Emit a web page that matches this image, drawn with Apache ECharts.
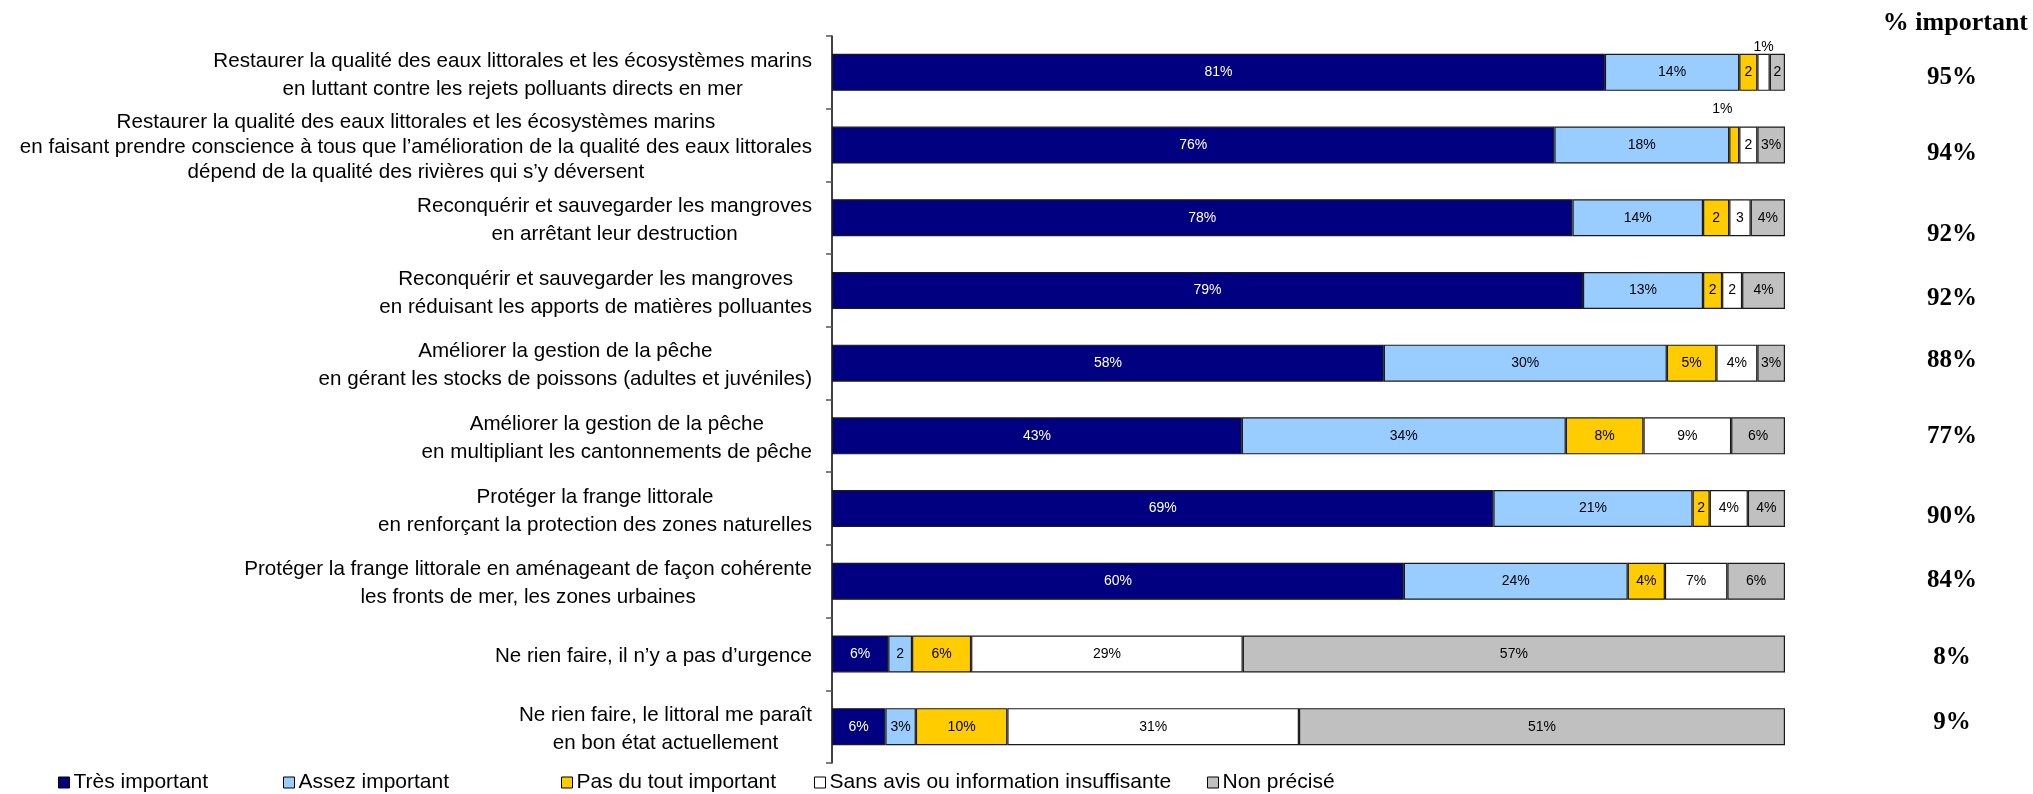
<!DOCTYPE html>
<html>
<head>
<meta charset="utf-8">
<script src="https://cdn.jsdelivr.net/npm/echarts@6/dist/echarts.min.js"></script>
<style>
html,body{margin:0;padding:0;background:#fff;}
#chart{width:2033px;height:794px;}
</style>
</head>
<body>
<div id="chart"></div>
<script>
const categories = [
  "Restaurer la qualité des eaux littorales et les écosystèmes marins\nen luttant contre les rejets polluants directs en mer",
  "Restaurer la qualité des eaux littorales et les écosystèmes marins\nen faisant prendre conscience à tous que l’amélioration de la qualité des eaux littorales\ndépend de la qualité des rivières qui s’y déversent",
  "Reconquérir et sauvegarder les mangroves\nen arrêtant leur destruction",
  "Reconquérir et sauvegarder les mangroves\nen réduisant les apports de matières polluantes",
  "Améliorer la gestion de la pêche\nen gérant les stocks de poissons (adultes et juvéniles)",
  "Améliorer la gestion de la pêche\nen multipliant les cantonnements de pêche",
  "Protéger la frange littorale\nen renforçant la protection des zones naturelles",
  "Protéger la frange littorale en aménageant de façon cohérente\nles fronts de mer, les zones urbaines",
  "Ne rien faire, il n’y a pas d’urgence",
  "Ne rien faire, le littoral me paraît\nen bon état actuellement"
];
const seriesNames = ["Très important", "Assez important", "Pas du tout important", "Sans avis ou information insuffisante", "Non précisé"];

const tresImportant     = [81.1, 75.8, 77.7, 78.8, 57.9, 43.0, 69.4, 60.0, 5.9, 5.6];
const assezImportant    = [14.1, 18.35, 13.7, 12.6, 29.7, 34.0, 20.9, 23.5, 2.5, 3.2];
const pasDuTout         = [1.9, 1.05, 2.75, 2.0, 5.2, 8.15, 1.8, 3.9, 6.2, 9.6];
const sansAvis          = [1.3, 1.9, 2.25, 2.1, 4.3, 9.2, 4.0, 6.55, 28.5, 30.6];
const nonPrecise        = [1.6, 2.9, 3.6, 4.5, 2.9, 5.65, 3.9, 6.05, 56.9, 51.0];

const tresImportantLbl  = ["81%", "76%", "78%", "79%", "58%", "43%", "69%", "60%", "6%", "6%"];
const assezImportantLbl = ["14%", "18%", "14%", "13%", "30%", "34%", "21%", "24%", "2", "3%"];
const pasDuToutLbl      = ["2", "1%", "2", "2", "5%", "8%", "2", "4%", "6%", "10%"];
const sansAvisLbl       = ["1%", "2", "3", "2", "4%", "9%", "4%", "7%", "29%", "31%"];
const nonPreciseLbl     = ["2", "3%", "4%", "4%", "3%", "6%", "4%", "6%", "57%", "51%"];

const pctImportant = ["95%", "94%", "92%", "92%", "88%", "77%", "90%", "84%", "8%", "9%"];

// layout: vertical nudge (px) of each "% important" figure relative to its bar centre
const pctShift = [5, 8, 17, 8, -3, 1, 8, -1, 4, -4];

const values = [tresImportant, assezImportant, pasDuTout, sansAvis, nonPrecise];
const labels = [tresImportantLbl, assezImportantLbl, pasDuToutLbl, sansAvisLbl, nonPreciseLbl];
const colors = ["#000080", "#99CCFF", "#FFCC00", "#FFFFFF", "#C0C0C0"];
const labelColors = ["#FFFFFF", "#000", "#000", "#000", "#000"];

// labels drawn above the bar (small segments)
const aboveLabels = { "3-0": { distance: 0, offset: [0, 0] }, "2-1": { distance: 10, offset: [-12, 0] } };

const SANS = "'Liberation Sans', Arial, sans-serif";
const SERIF = "'Liberation Serif', 'Times New Roman', serif";

const series = values.map((vals, si) => ({
  name: seriesNames[si],
  type: 'bar',
  stack: 'total',
  barWidth: 37,
  yAxisIndex: 0,
  itemStyle: { color: colors[si], borderColor: '#1a1a1a', borderWidth: 1.2 },
  label: {
    show: true,
    position: 'inside',
    color: labelColors[si],
    fontFamily: SANS,
    fontSize: 14,
    formatter: p => labels[si][p.dataIndex]
  },
  emphasis: { disabled: true },
  data: vals.map((v, i) => {
    const key = si + '-' + i;
    if (aboveLabels[key]) {
      return { value: v, label: { position: 'top', color: '#000', distance: aboveLabels[key].distance, offset: aboveLabels[key].offset } };
    }
    return v;
  })
}));

const legendLefts = [58, 283, 561, 814, 1207];
const legends = seriesNames.map((n, i) => ({
  data: [n],
  left: legendLefts[i],
  top: 772,
  padding: 0,
  icon: 'rect',
  itemWidth: 11,
  itemHeight: 11,
  itemGap: 4,
  selectedMode: false,
  itemStyle: { borderColor: '#000', borderWidth: 1 },
  textStyle: { fontFamily: SANS, fontSize: 21, color: '#000', padding: [0, 0, 0, -1] }
}));

const pctRich = {};
pctShift.forEach((d, i) => {
  pctRich['p' + i] = {
    fontFamily: SERIF, fontWeight: 'bold', fontSize: 25, color: '#000',
    padding: d >= 0 ? [2 * d, 0, 0, 0] : [0, 0, -2 * d, 0]
  };
});

const chart = echarts.init(document.getElementById('chart'), null, { renderer: 'canvas' });
chart.setOption({
  animation: false,
  backgroundColor: '#fff',
  title: {
    text: '% important',
    right: 5,
    top: 10,
    padding: 0,
    textStyle: { fontFamily: SERIF, fontWeight: 'bold', fontSize: 26, color: '#000' }
  },
  legend: legends,
  grid: { left: 832, right: 248, top: 36, bottom: 31, containLabel: false },
  xAxis: { type: 'value', min: 0, max: 100, show: false },
  yAxis: [
    {
      type: 'category',
      inverse: true,
      data: categories,
      axisLine: { show: true, lineStyle: { color: '#000', width: 1.5 } },
      axisTick: { show: true, length: 6, lineStyle: { color: '#555', width: 1.5 } },
      axisLabel: {
        margin: 20,
        padding: [5, 0, 0, 0],
        formatter: v => {
          const lines = v.split('\n');
          const s = lines.length > 2 ? 't' : 'c';
          return lines.map(l => '{' + s + '|' + l + '}').join('\n');
        },
        rich: {
          c: { align: 'center', fontFamily: SANS, fontSize: 20.6, lineHeight: 28, color: '#000' },
          t: { align: 'center', fontFamily: SANS, fontSize: 20.6, lineHeight: 25, color: '#000' }
        }
      },
      splitLine: { show: false }
    },
    {
      type: 'category',
      inverse: true,
      position: 'right',
      data: pctImportant,
      axisLine: { show: false },
      axisTick: { show: false },
      axisLabel: {
        align: 'center',
        margin: 167,
        formatter: (v, i) => '{p' + i + '|' + v + '}',
        rich: pctRich
      },
      splitLine: { show: false }
    }
  ],
  series: series
});
</script>
</body>
</html>
